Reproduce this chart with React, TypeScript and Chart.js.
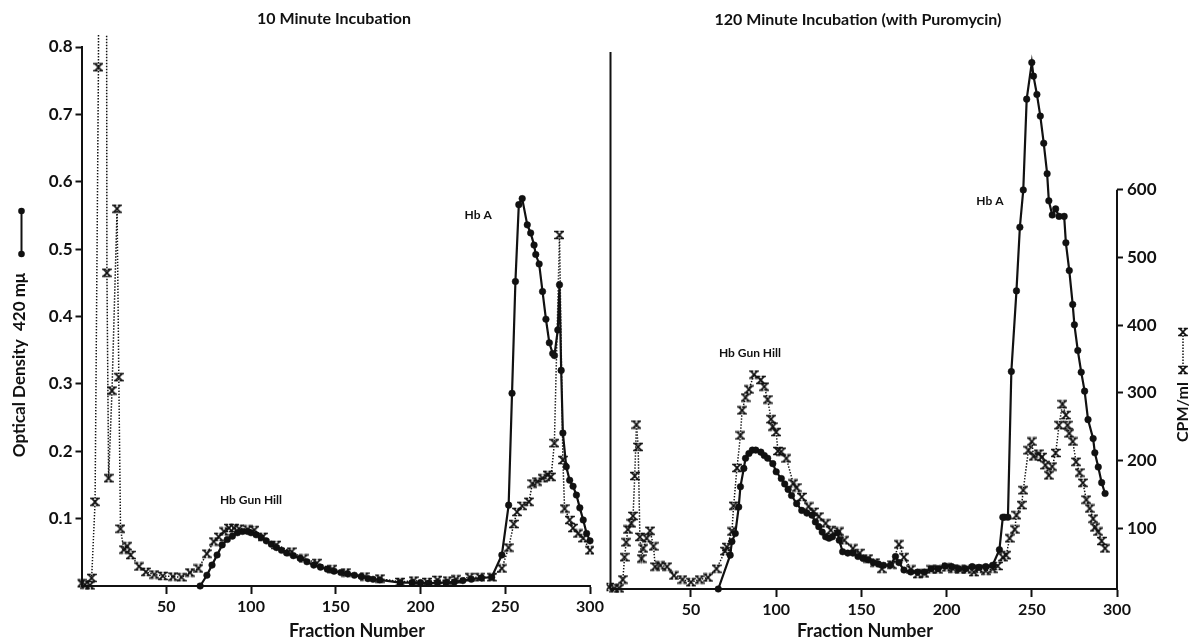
import { useEffect, useRef } from "react";
import { Chart, registerables } from "chart.js";

Chart.register(...registerables);

const INK = "#111111";
const FAMILY = "Lato, 'Open Sans', 'DejaVu Sans', sans-serif";
const W = 1190;
const H = 641;

// ---- 10 minute incubation: optical density at 420 mμ ----
const earlyOdFraction = [70, 74, 77, 80, 83, 86, 89, 92, 95, 98, 100, 103, 106, 109, 112, 115, 118, 121, 125, 129, 133, 137, 141, 145, 149, 153, 157, 161, 165, 169, 172, 176, 188, 195, 200, 205, 210, 215, 220, 225, 230, 236, 242, 248, 252, 254, 256, 258, 260, 263, 265, 267, 268, 270, 272, 274, 276, 278, 279, 281, 282, 283, 284, 286, 288, 290, 292, 294, 296, 298, 300];
const earlyOdValue = [0, 0.016, 0.031, 0.046, 0.061, 0.069, 0.074, 0.079, 0.081, 0.081, 0.079, 0.076, 0.072, 0.067, 0.062, 0.057, 0.053, 0.049, 0.045, 0.041, 0.036, 0.031, 0.028, 0.025, 0.022, 0.02, 0.018, 0.016, 0.014, 0.011, 0.01, 0.009, 0.005, 0.005, 0.005, 0.004, 0.005, 0.005, 0.006, 0.008, 0.01, 0.012, 0.013, 0.046, 0.12, 0.286, 0.452, 0.566, 0.575, 0.536, 0.524, 0.506, 0.492, 0.478, 0.437, 0.396, 0.361, 0.345, 0.342, 0.38, 0.447, 0.32, 0.227, 0.177, 0.157, 0.148, 0.135, 0.116, 0.098, 0.078, 0.067];

// ---- 10 minute incubation: radioactivity, CPM/ml ----
const earlyCpmFraction = [0, 2, 5, 6, 8, 10, 11, 14, 15, 16, 18, 21, 22, 23, 25, 27, 29, 34, 38, 43, 48, 54, 59, 64, 69, 74, 78, 81, 84, 87, 90, 93, 98, 102, 107, 115, 124, 131, 139, 148, 156, 167, 176, 188, 196, 204, 210, 216, 221, 229, 235, 242, 248, 252, 255, 257, 260, 264, 266, 269, 272, 275, 277, 279, 282, 284, 285, 288, 290, 293, 296, 300];
const earlyCpmValue = [4, 2, 1, 12, 125, 770, 2500, 2500, 465, 160, 290, 560, 310, 85, 54, 59, 46, 29, 21, 17, 15, 14, 13, 20, 26, 48, 66, 73, 81, 86, 86, 85, 84, 83, 73, 61, 51, 41, 34, 25, 20, 14, 11, 6, 8, 6, 9, 8, 10, 13, 13, 13, 26, 57, 92, 110, 119, 125, 152, 155, 160, 165, 162, 212, 521, 187, 115, 98, 86, 78, 71, 53];

// ---- 120 minute incubation (with puromycin): optical density ----
const lateOdFraction = [66, 73, 74, 76, 78, 79, 81, 82, 84, 86, 88, 91, 93, 95, 98, 100, 103, 105, 107, 109, 112, 115, 118, 121, 123, 125, 127, 129, 131, 133, 136, 137, 139, 142, 145, 148, 151, 154, 157, 160, 163, 167, 170, 172, 175, 179, 183, 187, 191, 195, 199, 203, 207, 211, 215, 219, 223, 227, 231, 233, 234, 236, 238, 241, 243, 245, 247, 250, 251, 253, 255, 257, 259, 260, 262, 264, 266, 269, 270, 272, 274, 275, 277, 279, 281, 283, 286, 287, 289, 291, 293];
const lateOdValue = [0, 0.05, 0.07, 0.082, 0.121, 0.151, 0.178, 0.193, 0.2, 0.205, 0.205, 0.202, 0.197, 0.193, 0.185, 0.173, 0.163, 0.155, 0.147, 0.138, 0.126, 0.116, 0.112, 0.109, 0.099, 0.092, 0.084, 0.077, 0.075, 0.077, 0.083, 0.072, 0.055, 0.053, 0.053, 0.048, 0.045, 0.043, 0.039, 0.037, 0.035, 0.035, 0.048, 0.039, 0.028, 0.025, 0.025, 0.025, 0.03, 0.03, 0.034, 0.033, 0.03, 0.03, 0.033, 0.032, 0.033, 0.035, 0.058, 0.106, 0.106, 0.106, 0.321, 0.44, 0.534, 0.589, 0.723, 0.777, 0.757, 0.73, 0.698, 0.658, 0.613, 0.573, 0.552, 0.561, 0.55, 0.55, 0.511, 0.47, 0.42, 0.39, 0.352, 0.32, 0.292, 0.25, 0.222, 0.201, 0.18, 0.157, 0.141];

// ---- 120 minute incubation (with puromycin): CPM/ml ----
const lateCpmFraction = [2, 5, 8, 10, 11, 12, 13, 15, 16, 17, 18, 19, 20, 21, 22, 24, 26, 28, 29, 32, 36, 40, 45, 50, 55, 60, 65, 70, 71, 74, 75, 77, 79, 80, 82, 84, 87, 91, 93, 95, 97, 98, 100, 101, 103, 106, 110, 112, 115, 119, 122, 125, 129, 132, 137, 140, 145, 149, 154, 158, 162, 168, 172, 175, 179, 183, 187, 191, 195, 200, 204, 208, 212, 216, 219, 223, 227, 230, 233, 235, 237, 240, 241, 244, 245, 248, 250, 251, 254, 256, 258, 260, 262, 264, 266, 268, 270, 271, 272, 274, 276, 278, 280, 282, 284, 286, 287, 289, 291, 293];
const lateCpmValue = [13, 11, 11, 24, 57, 79, 98, 107, 118, 177, 253, 220, 87, 55, 70, 85, 96, 73, 43, 45, 43, 30, 24, 20, 24, 27, 40, 66, 72, 95, 133, 189, 237, 274, 293, 305, 327, 319, 309, 290, 261, 250, 242, 214, 213, 203, 166, 160, 146, 132, 124, 117, 107, 97, 95, 82, 70, 63, 55, 49, 40, 46, 76, 57, 39, 32, 33, 39, 39, 42, 40, 39, 39, 35, 40, 37, 40, 44, 57, 60, 85, 98, 119, 134, 156, 215, 228, 206, 210, 205, 193, 178, 191, 211, 252, 283, 267, 252, 240, 228, 198, 182, 167, 142, 129, 114, 101, 95, 81, 70];

const fractionTicks = [50, 100, 150, 200, 250, 300];
const odTicks = [0.1, 0.2, 0.3, 0.4, 0.5, 0.6, 0.7, 0.8];
const cpmTicks = [100, 200, 300, 400, 500, 600];

const pairs = (xs: number[], ys: number[]) => xs.map((x, i) => ({ x, y: ys[i] }));

// serifed "x" used for the CPM points
function crossMark(): HTMLCanvasElement {
  const c = document.createElement("canvas");
  c.width = 10;
  c.height = 10;
  const g = c.getContext("2d")!;
  g.strokeStyle = INK;
  g.lineCap = "square";
  g.lineWidth = 1.8;
  g.beginPath();
  g.moveTo(2.2, 2);
  g.lineTo(7.8, 8);
  g.moveTo(7.8, 2);
  g.lineTo(2.2, 8);
  g.stroke();
  g.lineWidth = 1.4;
  g.beginPath();
  g.moveTo(0.8, 1.5);
  g.lineTo(3.6, 1.5);
  g.moveTo(6.4, 1.5);
  g.lineTo(9.2, 1.5);
  g.moveTo(0.8, 8.5);
  g.lineTo(3.6, 8.5);
  g.moveTo(6.4, 8.5);
  g.lineTo(9.2, 8.5);
  g.stroke();
  return c;
}

type TextItem = { text: string; x: number; y: number; size: number; data?: boolean; rotate?: boolean };

function drawTexts(chart: any, items: TextItem[]) {
  const ctx = chart.ctx as CanvasRenderingContext2D;
  ctx.save();
  ctx.fillStyle = INK;
  ctx.textAlign = "center";
  ctx.textBaseline = "middle";
  for (const t of items) {
    const px = t.data ? chart.scales.x.getPixelForValue(t.x) : t.x;
    const py = t.data ? chart.scales.y.getPixelForValue(t.y) : t.y;
    ctx.font = `bold ${t.size}px ${FAMILY}`;
    if (t.rotate) {
      ctx.save();
      ctx.translate(px, py);
      ctx.rotate(-Math.PI / 2);
      ctx.fillText(t.text, 0, 0);
      ctx.restore();
    } else {
      ctx.fillText(t.text, px, py);
    }
  }
  ctx.restore();
}

const tickFont = (size: number) => ({ family: FAMILY, size, weight: "bold" as const });

const cpmStyle = {
  borderColor: INK,
  borderWidth: 1.5,
  borderDash: [1.4, 1.6],
  pointRadius: 5,
};

const odStyle = {
  borderColor: INK,
  borderWidth: 2.2,
  pointStyle: "circle",
  pointRadius: 3.3,
  pointBackgroundColor: INK,
  pointBorderColor: INK,
  pointBorderWidth: 0.5,
  clip: 4,
};

function xScale(min: number, height: number) {
  return {
    type: "linear" as const,
    min,
    max: 300,
    afterBuildTicks: (s: any) => {
      s.ticks = fractionTicks.map((value) => ({ value }));
    },
    afterFit: (s: any) => {
      s.height = height;
    },
    grid: { display: true, drawOnChartArea: false, drawTicks: true, tickLength: 8, tickWidth: 2, tickColor: INK, color: INK },
    border: { display: true, width: 2, color: INK },
    ticks: { color: INK, font: tickFont(16), padding: 3, maxRotation: 0, autoSkip: false },
  };
}

function buildEarly(canvas: HTMLCanvasElement, mark: HTMLCanvasElement) {
  const decor = {
    id: "earlyDecor",
    afterDraw(chart: any) {
      const ctx = chart.ctx as CanvasRenderingContext2D;
      drawTexts(chart, [
        { text: "10 Minute Incubation", x: 334, y: 19, size: 16 },
        { text: "Fraction Number", x: 357, y: 631, size: 18 },
        { text: "Optical Density  420 mμ", x: 20, y: 365, size: 17, rotate: true },
        { text: "Hb Gun Hill", x: 100, y: 0.128, size: 12, data: true },
        { text: "Hb A", x: 234, y: 0.551, size: 12, data: true },
      ]);
      // legend key for the optical density trace
      ctx.save();
      ctx.strokeStyle = INK;
      ctx.fillStyle = INK;
      ctx.lineWidth = 2;
      ctx.beginPath();
      ctx.moveTo(21.5, 211);
      ctx.lineTo(21.5, 254);
      ctx.stroke();
      for (const y of [211, 254]) {
        ctx.beginPath();
        ctx.arc(21.5, y, 3.3, 0, Math.PI * 2);
        ctx.fill();
      }
      ctx.restore();
    },
  };

  return new Chart(canvas, {
    type: "line",
    data: {
      datasets: [
        {
          ...cpmStyle,
          label: "CPM/ml",
          data: pairs(earlyCpmFraction, earlyCpmValue),
          yAxisID: "cpm",
          pointStyle: mark,
          clip: { left: 4, top: 12, right: 4, bottom: 4 },
        },
        {
          ...odStyle,
          label: "Optical Density 420 mμ",
          data: pairs(earlyOdFraction, earlyOdValue),
          yAxisID: "y",
        },
      ] as any,
    },
    options: {
      responsive: false,
      animation: false,
      events: [],
      layout: { padding: { left: 0, top: 47, right: W - 590, bottom: 0 } },
      elements: { line: { tension: 0 } },
      plugins: { legend: { display: false }, tooltip: { enabled: false }, title: { display: false } },
      scales: {
        x: xScale(0, 55) as any,
        y: {
          type: "linear",
          position: "left",
          min: 0,
          max: 0.8,
          afterBuildTicks: (s: any) => {
            s.ticks = odTicks.map((value) => ({ value }));
          },
          afterFit: (s: any) => {
            s.width = 81.5;
          },
          grid: { display: true, drawOnChartArea: false, drawTicks: true, tickLength: 6, tickWidth: 2, tickColor: INK, color: INK },
          border: { display: true, width: 2, color: INK },
          ticks: { color: INK, font: tickFont(17), padding: 3, callback: (v: any) => Number(v).toFixed(1) },
        },
        cpm: { type: "linear", display: false, min: 0, max: 800 },
      },
    },
    plugins: [decor],
  });
}

function buildLate(canvas: HTMLCanvasElement, mark: HTMLCanvasElement) {
  const decor = {
    id: "lateDecor",
    afterDraw(chart: any) {
      const ctx = chart.ctx as CanvasRenderingContext2D;
      const area = chart.chartArea;
      const top600 = chart.scales.cpm.getPixelForValue(600);
      ctx.save();
      ctx.strokeStyle = INK;
      ctx.lineWidth = 2;
      ctx.beginPath();
      ctx.moveTo(area.left, area.top + 5);
      ctx.lineTo(area.left, area.bottom + 1);
      ctx.moveTo(area.right, top600);
      ctx.lineTo(area.right, area.bottom + 1);
      ctx.stroke();
      ctx.restore();

      drawTexts(chart, [
        { text: "120 Minute Incubation (with Puromycin)", x: 858, y: 20, size: 16 },
        { text: "Fraction Number", x: 865, y: 631, size: 18 },
        { text: "Hb Gun Hill", x: 84.6, y: 0.348, size: 12, data: true },
        { text: "Hb A", x: 225.4, y: 0.572, size: 12, data: true },
        { text: "CPM/ml", x: 1183, y: 412, size: 16, rotate: true },
      ]);

      // legend key for the CPM trace
      ctx.save();
      ctx.strokeStyle = INK;
      ctx.lineWidth = 1.5;
      ctx.setLineDash([1.4, 1.6]);
      ctx.beginPath();
      ctx.moveTo(1183, 370);
      ctx.lineTo(1183, 332);
      ctx.stroke();
      ctx.setLineDash([]);
      for (const y of [370, 332]) ctx.drawImage(mark, 1183 - mark.width / 2, y - mark.height / 2);
      ctx.restore();
    },
  };

  return new Chart(canvas, {
    type: "line",
    data: {
      datasets: [
        {
          ...cpmStyle,
          label: "CPM/ml",
          data: pairs(lateCpmFraction, lateCpmValue),
          yAxisID: "cpm",
          pointStyle: mark,
          clip: 4,
        },
        {
          ...odStyle,
          label: "Optical Density 420 mμ",
          data: pairs(lateOdFraction, lateOdValue),
          yAxisID: "y",
        },
      ] as any,
    },
    options: {
      responsive: false,
      animation: false,
      events: [],
      layout: { padding: { left: 610.5, top: 47, right: 0, bottom: 0 } },
      elements: { line: { tension: 0 } },
      plugins: { legend: { display: false }, tooltip: { enabled: false }, title: { display: false } },
      scales: {
        x: xScale(2.76, 52) as any,
        y: { type: "linear", display: false, min: 0, max: 0.8 },
        cpm: {
          type: "linear",
          position: "right",
          min: 10,
          max: 811,
          afterBuildTicks: (s: any) => {
            s.ticks = cpmTicks.map((value) => ({ value }));
          },
          afterFit: (s: any) => {
            s.width = W - 1117;
          },
          grid: { display: true, drawOnChartArea: false, drawTicks: true, tickLength: 6, tickWidth: 2, tickColor: INK, color: INK },
          border: { display: false },
          ticks: { color: INK, font: tickFont(17), padding: 4 },
        },
      },
    },
    plugins: [decor],
  });
}

export default function App() {
  const earlyRef = useRef<HTMLCanvasElement>(null);
  const lateRef = useRef<HTMLCanvasElement>(null);

  useEffect(() => {
    const mark = crossMark();
    const a = buildEarly(earlyRef.current!, mark);
    const b = buildLate(lateRef.current!, mark);
    return () => {
      a.destroy();
      b.destroy();
    };
  }, []);

  const layer: React.CSSProperties = { position: "absolute", left: 0, top: 0, width: W, height: H };
  return (
    <div style={{ position: "fixed", left: 0, top: 0, width: W, height: H, background: "#fff" }}>
      <canvas ref={earlyRef} width={W} height={H} style={layer} />
      <canvas ref={lateRef} width={W} height={H} style={layer} />
    </div>
  );
}
